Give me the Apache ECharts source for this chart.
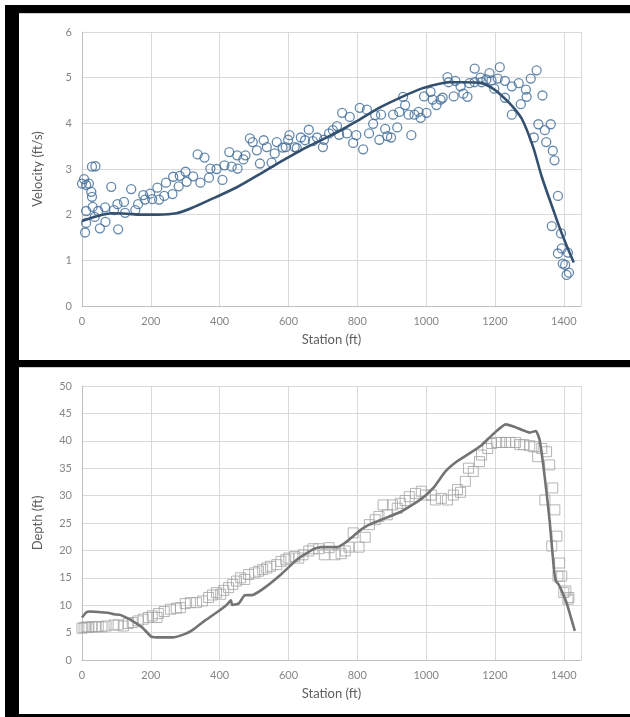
<!DOCTYPE html>
<html>
<head>
<meta charset="utf-8">
<script src="https://cdn.jsdelivr.net/npm/echarts@6/dist/echarts.min.js"></script>
<style>
html,body{margin:0;padding:0;background:#fff;width:630px;height:717px;overflow:hidden;}
#frame{position:absolute;left:5px;top:5px;width:625px;height:712px;background:#000;}
.panel{position:absolute;left:19px;width:611px;background:#fff;border-top:1px solid #d0d0d0;box-sizing:border-box;}
#p1{top:13px;height:347px;}
#p2{top:367px;height:347px;}
#chart{position:absolute;left:0;top:0;width:630px;height:717px;}
</style>
</head>
<body>
<div id="frame"></div>
<div class="panel" id="p1"></div>
<div class="panel" id="p2"></div>
<div id="chart"></div>
<script>
// ---- Velocity chart (top) ----
const velX = [0,6,12,20,27,29,29,39,12,12,9,31,37,52,47,67,68,85,93,105,103,122,125,143,155,163,178,183,198,204,219,224,239,244,263,265,281,284,301,304,323,336,344,356,369,373,391,408,414,428,435,451,452,469,475,488,496,508,517,528,537,551,560,566,583,592,599,603,618,624,636,648,659,671,683,700,703,718,729,741,747,756,770,778,788,797,807,817,828,834,846,852,864,869,881,887,898,904,916,922,933,939,949,957,966,978,984,994,1001,1013,1019,1030,1042,1048,1062,1065,1080,1085,1100,1108,1120,1126,1141,1141,1158,1161,1175,1184,1190,1198,1208,1214,1229,1229,1249,1249,1269,1275,1290,1292,1304,1313,1321,1326,1338,1345,1349,1362,1365,1368,1373,1383,1383,1392,1394,1397,1404,1408,1415,1412];
const velY = [2.68,2.78,2.65,2.68,2.5,2.39,3.05,3.06,2.08,1.82,1.61,2.17,1.95,1.7,2.08,2.16,1.84,2.61,2.1,1.68,2.23,2.28,2.04,2.56,2.1,2.23,2.43,2.33,2.46,2.34,2.59,2.33,2.41,2.7,2.45,2.83,2.62,2.85,2.94,2.72,2.84,3.32,2.7,3.25,2.81,3.01,3.0,2.76,3.08,3.37,3.05,3.3,3.01,3.21,3.3,3.67,3.59,3.41,3.12,3.63,3.48,3.14,3.34,3.59,3.47,3.48,3.64,3.74,3.48,3.46,3.69,3.63,3.86,3.61,3.69,3.48,3.64,3.78,3.85,3.94,3.75,4.23,3.78,4.14,3.57,3.74,4.34,3.43,4.3,3.78,3.99,4.18,3.64,4.19,3.88,3.72,3.69,4.19,3.91,4.25,4.58,4.4,4.19,3.74,4.19,4.25,4.12,4.59,4.23,4.69,4.52,4.4,4.52,4.56,5.01,4.9,4.59,4.93,4.81,4.65,4.58,4.88,5.2,4.9,5.0,4.9,4.96,5.1,4.94,4.76,4.98,5.23,4.93,4.56,4.81,4.19,4.88,4.42,4.74,4.58,4.98,3.69,5.16,3.98,4.61,3.85,3.59,3.98,1.75,3.4,3.19,2.41,1.15,1.59,1.26,0.93,0.9,0.68,0.73,1.17];
const velLineX = [0,40,87,130,169,220,274,320,379,450,519,580,636,700,753,810,869,930,986,1030,1068,1110,1161,1190,1219,1250,1278,1310,1336,1365,1394,1429];
const velLineY = [1.86,1.96,2.03,2.02,2.0,2.0,2.03,2.15,2.35,2.6,2.9,3.17,3.41,3.65,3.85,4.1,4.36,4.58,4.76,4.85,4.9,4.9,4.88,4.78,4.61,4.38,4.1,3.5,2.83,2.2,1.59,0.95];

// ---- Depth chart (bottom) ----
const depX = [0,6,12,20,29,39,47,58,70,93,105,120,134,146,163,178,193,204,218,222,239,257,274,286,300,315,333,350,368,379,391,403,412,426,438,449,461,473,484,502,513,525,537,548,566,578,592,601,618,630,642,659,671,688,704,718,735,753,765,776,788,805,823,835,852,863,875,887,902,916,925,939,951,969,986,998,1015,1027,1044,1062,1079,1091,1100,1114,1123,1137,1155,1161,1179,1190,1205,1219,1231,1243,1260,1272,1284,1301,1313,1324,1336,1345,1350,1359,1365,1368,1374,1380,1383,1388,1394,1400,1406,1412,1415];
const depY = [5.8,5.93,6.05,5.93,6.05,6.05,6.1,6.05,6.2,6.4,6.4,6.2,6.66,6.84,7.14,7.45,7.75,8.05,7.75,8.47,8.84,9.26,9.44,9.56,10.29,10.47,10.47,10.77,11.4,11.86,12.29,12.0,12.7,13.2,13.8,14.4,15.0,14.7,15.6,15.9,16.2,16.5,16.8,17.1,17.4,18.0,18.3,18.6,18.9,18.6,19.2,19.9,20.3,20.3,19.2,20.5,19.2,19.4,19.9,20.6,23.2,20.6,22.4,24.7,25.6,26.2,28.3,26.5,28.3,27.7,28.6,29.1,29.8,30.4,30.8,30.1,30.1,29.2,29.5,29.2,30.1,31.1,30.6,32.6,35.0,34.4,36.2,37.4,38.6,39.5,39.7,39.7,39.7,39.7,39.7,39.3,39.3,39.1,38.9,37.1,38.6,29.2,38.0,35.6,20.8,31.4,27.4,22.6,15.3,17.7,15.3,12.3,12.6,11.1,11.4];
const depLineX = [0,12,23,64,82,93,111,146,175,202,228,263,298,321,356,391,420,433,436,455,473,496,531,578,624,671,694,741,765,788,811,835,870,928,986,1021,1056,1091,1126,1161,1196,1231,1254,1278,1301,1319,1330,1345,1359,1371,1377,1385,1394,1406,1415,1432];
const depLineY = [7.75,8.66,8.84,8.66,8.54,8.35,8.23,7.14,5.93,4.24,4.12,4.12,4.72,5.45,7.14,8.66,10.05,10.9,10.05,10.29,11.8,11.86,13.2,15.6,18.3,20.2,20.6,20.6,21.4,22.6,23.8,24.7,25.6,27.1,29.4,31.4,34.4,36.3,37.7,39.2,41.3,43.0,42.6,42.0,41.5,41.8,40.1,33.2,25.3,16.8,14.4,13.8,12.6,10.8,9.0,5.3];

const xTicks = {min:0, max:1450, interval:200};
const velTicks = {min:0, max:6, interval:1};
const depTicks = {min:0, max:50, interval:5};

const pairs = (xs, ys) => xs.map((x, i) => [x, ys[i]]);

const FONT = 'Lato, "Liberation Sans", sans-serif';
const labelStyle = {color:'#868686', fontSize:11, fontFamily:FONT, formatter:(v) => String(v)};
const nameStyle = {color:'#5f5f5f', fontSize:13, fontFamily:FONT};
const gridLine = {show:true, lineStyle:{color:'#d9d9d9', width:1}};
const axisLine = {show:true, lineStyle:{color:'#bfbfbf', width:1}};

function xAxisDef(gridIndex){
  return {
    type:'value', gridIndex, min:xTicks.min, max:xTicks.max, interval:xTicks.interval,
    name:'Station (ft)', nameLocation:'middle', nameGap:27, nameTextStyle:nameStyle,
    axisLine, axisTick:{show:false}, splitLine:gridLine,
    axisLabel:Object.assign({margin:10, showMaxLabel:false}, labelStyle)
  };
}
function yAxisDef(gridIndex, t, name){
  return {
    type:'value', gridIndex, min:t.min, max:t.max, interval:t.interval,
    name, nameLocation:'middle', nameGap:38, nameTextStyle:nameStyle,
    axisLine, axisTick:{show:false}, splitLine:gridLine,
    axisLabel:Object.assign({margin:10}, labelStyle)
  };
}

const chart = echarts.init(document.getElementById('chart'), null, {renderer:'canvas'});
chart.setOption({
  backgroundColor:'transparent',
  animation:false,
  grid:[
    {left:82, top:32, width:499, height:274},
    {left:82, top:386, width:499, height:274}
  ],
  xAxis:[xAxisDef(0), xAxisDef(1)],
  yAxis:[yAxisDef(0, velTicks, 'Velocity (ft/s)'), yAxisDef(1, depTicks, 'Depth (ft)')],
  series:[
    {
      type:'scatter', xAxisIndex:0, yAxisIndex:0, data:pairs(velX, velY),
      symbol:'circle', symbolSize:9,
      itemStyle:{color:'rgba(255,255,255,0)', borderColor:'#3e6b98', borderWidth:1.3}
    },
    {
      type:'line', xAxisIndex:0, yAxisIndex:0, data:pairs(velLineX, velLineY),
      smooth:0.3, showSymbol:false, symbol:'none',
      lineStyle:{color:'#34506f', width:2.6}
    },
    {
      type:'scatter', xAxisIndex:1, yAxisIndex:1, data:pairs(depX, depY),
      symbol:'rect', symbolSize:10,
      itemStyle:{color:'rgba(255,255,255,0)', borderColor:'#a3a3a3', borderWidth:1}
    },
    {
      type:'line', xAxisIndex:1, yAxisIndex:1, data:pairs(depLineX, depLineY),
      smooth:0.15, showSymbol:false, symbol:'none',
      lineStyle:{color:'#737373', width:2.6}
    }
  ]
});
</script>
</body>
</html>
